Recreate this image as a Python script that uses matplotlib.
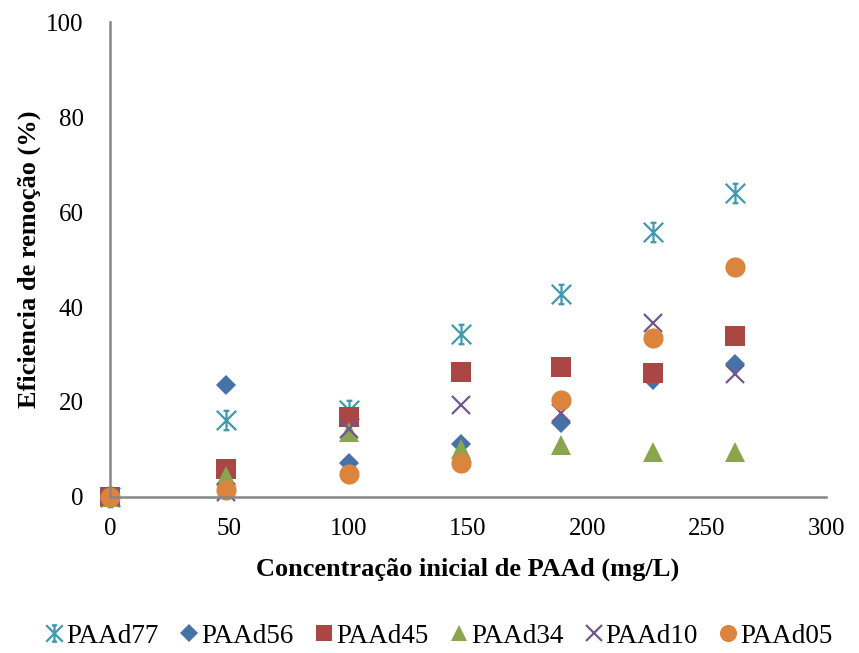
import matplotlib
matplotlib.use("Agg")
import matplotlib.pyplot as plt
from matplotlib.path import Path

# Initial PAAd concentration (mg/L)
concentration = [0, 48.5, 100, 147, 189, 227.5, 262]

# Removal efficiency (%) for each dispersion
paad77 = [0, 16.2, 18.3, 34.4, 42.7, 55.7, 63.9]
paad56 = [0, 23.5, 7.1, 11.1, 15.5, 24.6, 27.9]
paad45 = [0, 5.8, 16.8, 26.3, 27.4, 26.2, 33.9]
paad34 = [0, 4.5, 13.6, 10.2, 10.9, 9.5, 9.5]
paad10 = [0, 1.0, 14.4, 19.3, 17.6, 36.6, 25.9]
paad05 = [0, 1.5, 4.8, 7.1, 20.4, 33.5, 48.4]

series_names = ["PAAd77", "PAAd56", "PAAd45", "PAAd34", "PAAd10", "PAAd05"]
x_ticks = [0, 50, 100, 150, 200, 250, 300]
y_ticks = [0, 20, 40, 60, 80, 100]

# Star marker: vertical bar, two diagonals and short caps
M, L = Path.MOVETO, Path.LINETO
star_verts = [(0, -1), (0, 1),
              (-1, -1), (1, 1),
              (-1, 1), (1, -1),
              (-0.3, 1), (0.3, 1),
              (-0.3, -1), (0.3, -1)]
star_codes = [M, L] * 5
star = Path(star_verts, star_codes)

plt.rcParams['font.family'] = ['Liberation Serif', 'DejaVu Serif']

fig = plt.figure(figsize=(8.59, 6.53), dpi=100)
ax = fig.add_axes([0.128, 0.2389, 0.8336, 0.7274])

styles = [
    dict(marker=star, color="#4198AF", ms=14, mew=1.6, mfc="none"),
    dict(marker="D", color="#4572A7", ms=10.2, mew=0),
    dict(marker="s", color="#AA4643", ms=14, mew=0),
    dict(marker="^", color="#89A54E", ms=14, mew=0),
    dict(marker="x", color="#71588F", ms=13, mew=1.6),
    dict(marker="o", color="#DB843D", ms=14.5, mew=0),
]
data = [paad77, paad56, paad45, paad34, paad10, paad05]

for name, vals, st in zip(series_names, data, styles):
    ax.plot(concentration, vals, linestyle="none", label=name,
            clip_on=False, **st)

ax.set_xlim(0, 300)
ax.set_ylim(0, 100)
ax.set_xticks(x_ticks)
ax.set_yticks(y_ticks)
ax.tick_params(length=0, labelsize=18)
ax.tick_params(axis='x', pad=15)
ax.tick_params(axis='y', pad=19)

for side in ("top", "right"):
    ax.spines[side].set_visible(False)
for side in ("left", "bottom"):
    ax.spines[side].set_color("#868686")
    ax.spines[side].set_linewidth(1.8)

ax.set_xlabel("Concentração inicial de PAAd (mg/L)", fontsize=19,
              fontweight="bold", labelpad=13)
ax.set_ylabel("Eficiencia de remoção (%)", fontsize=19,
              fontweight="bold", labelpad=4)

fig.legend(loc="center", bbox_to_anchor=(0.51, 0.026), ncol=6,
           frameon=False, fontsize=19.5, handlelength=0.8,
           handletextpad=0.05, columnspacing=0.72, markerscale=0.85)

fig.savefig("out.png", dpi=100)
